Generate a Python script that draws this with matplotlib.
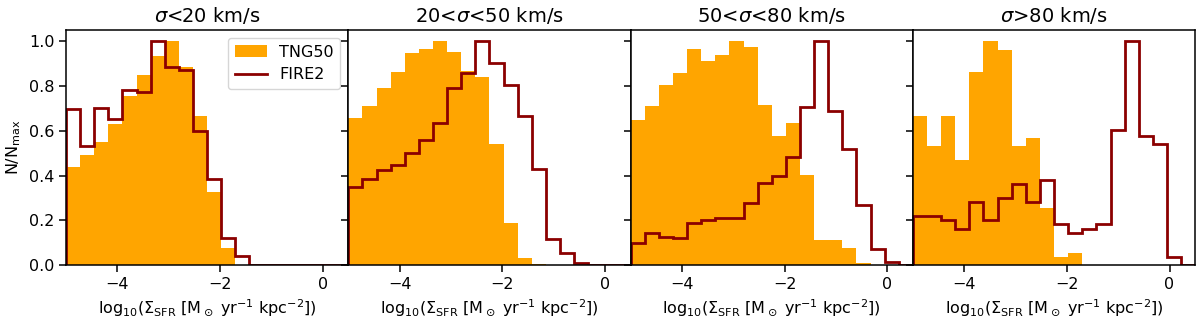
import numpy as np
import matplotlib
matplotlib.use("Agg")
import matplotlib.pyplot as plt
from matplotlib.lines import Line2D
from matplotlib.patches import Patch

# Bin edges of log10(Sigma_SFR)
bin_edges = np.linspace(-5.0, 0.5, 21)

titles = [r"$\sigma$<20 km/s", r"20<$\sigma$<50 km/s",
          r"50<$\sigma$<80 km/s", r"$\sigma$>80 km/s"]

tng_1 = [0.44, 0.49, 0.548, 0.63, 0.754, 0.85, 0.933, 1.0, 0.884, 0.664,
         0.328, 0.078, 0.0, 0, 0, 0, 0, 0, 0, 0]
fire_1 = [0.697, 0.534, 0.704, 0.651, 0.782, 0.772, 1.0, 0.884, 0.870, 0.60,
          0.385, 0.119, 0.042, 0, 0, 0, 0, 0, 0, 0]

tng_2 = [0.657, 0.709, 0.791, 0.863, 0.948, 0.966, 1.0, 0.951, 0.866, 0.840,
         0.540, 0.187, 0.033, 0.005, 0, 0, 0, 0, 0, 0]
fire_2 = [0.351, 0.385, 0.425, 0.445, 0.50, 0.557, 0.634, 0.791, 0.858, 1.0,
          0.903, 0.803, 0.664, 0.430, 0.115, 0.052, 0.007, 0, 0, 0]

tng_3 = [0.649, 0.712, 0.806, 0.858, 0.966, 0.910, 0.940, 1.0, 0.973, 0.716,
         0.578, 0.634, 0.403, 0.112, 0.112, 0.078, 0.010, 0, 0, 0]
fire_3 = [0.097, 0.142, 0.127, 0.119, 0.187, 0.201, 0.212, 0.212, 0.276, 0.366,
          0.396, 0.481, 0.706, 1.0, 0.687, 0.518, 0.269, 0.072, 0.012, 0.0]

tng_4 = [0.667, 0.530, 0.667, 0.470, 0.863, 1.0, 0.963, 0.530, 0.567, 0.254,
         0.037, 0.055, 0, 0, 0, 0, 0, 0, 0, 0]
fire_4 = [0.221, 0.221, 0.201, 0.160, 0.281, 0.201, 0.301, 0.361, 0.281, 0.381,
          0.182, 0.142, 0.161, 0.182, 0.604, 1.0, 0.579, 0.540, 0.037, 0.0]

tng_all = [tng_1, tng_2, tng_3, tng_4]
fire_all = [fire_1, fire_2, fire_3, fire_4]

FS = 11.5
plt.rcParams['font.size'] = FS
plt.rcParams['axes.linewidth'] = 1.1
for a in ('xtick', 'ytick'):
    plt.rcParams[a + '.major.size'] = 4.9
    plt.rcParams[a + '.major.width'] = 1.1

fig, axes = plt.subplots(1, 4, figsize=(12, 3.24), dpi=100, sharey=True)
fig.subplots_adjust(left=0.055, right=0.996, top=0.907, bottom=0.182, wspace=0)

centers = 0.5 * (bin_edges[:-1] + bin_edges[1:])
for i, ax in enumerate(axes):
    ax.hist(centers, bins=bin_edges, weights=tng_all[i], color='orange',
            zorder=1)
    ax.hist(centers, bins=bin_edges, weights=fire_all[i], histtype='step',
            color='darkred', linewidth=2.0, zorder=2)
    ax.set_xlim(-5.0, 0.5)
    ax.set_ylim(0, 1.05)
    ax.set_xticks([-4, -2, 0])
    ax.set_yticks([0.0, 0.2, 0.4, 0.6, 0.8, 1.0])
    ax.set_title(titles[i], fontsize=14)
    ax.set_xlabel(r"log$_{\rm 10}$($\Sigma_{\rm SFR}$ [M$_\odot$ yr$^{-1}$ kpc$^{-2}$])",
                  fontsize=FS)
    ax.tick_params(labelsize=FS)

axes[0].set_ylabel(r"N/N$_{\rm max}$", fontsize=FS)
handles = [Patch(facecolor='orange', label='TNG50'),
           Line2D([0], [0], color='darkred', linewidth=2.0, label='FIRE2')]
axes[0].legend(handles=handles, loc='upper right', fontsize=FS)

fig.savefig("out.png", dpi=100)
